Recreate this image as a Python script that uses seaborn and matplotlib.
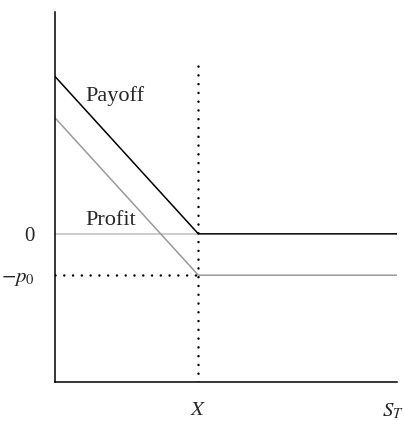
import matplotlib
matplotlib.use("Agg")
import matplotlib.pyplot as plt
import seaborn as sns
import pandas as pd

# long put: payoff and profit against the stock price at expiry
s_t = [0, 42, 100]
payoff = [42, 0, 0]
premium = 11
profit = [v - premium for v in payoff]
strike = 42
x_tick_pos = [strike, 98.8]
x_tick_labels = ["$X$", "$S_T$"]

sns.set_style("white")
plt.rcParams['font.family'] = ['Liberation Serif', 'DejaVu Serif']
plt.rcParams['mathtext.fontset'] = 'stix'

df = pd.DataFrame({"S": s_t, "Payoff": payoff, "Profit": profit})

fig = plt.figure(figsize=(4.04, 4.21), dpi=100)
ax = fig.add_axes([54.5 / 404, 39 / 421, 342.5 / 404, 370 / 421])

# zero line, gray, only left of the strike
ax.plot([0, strike], [0, 0], color="#bdbdbd", lw=1.1, zorder=1)

sns.lineplot(data=df, x="S", y="Profit", ax=ax, color="#9a9a9a", lw=1.1)
sns.lineplot(data=df, x="S", y="Payoff", ax=ax, color="black", lw=1.1)

dots = dict(color="black", lw=1.8, linestyle=(0, (0.01, 3.5)),
            dash_capstyle="round", zorder=3)
ax.plot([strike, strike], [-39.4, 45.5], **dots)
ax.plot([0, strike], [-premium, -premium], **dots)

ax.set_xlim(0, 100)
ax.set_ylim(-39.4, 59)
ax.set_xticks(x_tick_pos)
ax.set_xticklabels(x_tick_labels, fontsize=15)
ax.set_yticks([-premium, 0])
ax.set_yticklabels(["$-p_0$", "0"], fontsize=15)
ax.tick_params(axis="x", length=0, pad=14)
ax.tick_params(axis="y", length=0, pad=14)
ax.set_xlabel("")
ax.set_ylabel("")

ax.text(8.9, 36.6, "Payoff", fontsize=16, va="center")
ax.text(8.9, 3.6, "Profit", fontsize=16, va="center")

for side in ["top", "right"]:
    ax.spines[side].set_visible(False)
for side in ["left", "bottom"]:
    ax.spines[side].set_color("black")
    ax.spines[side].set_linewidth(1.1)

fig.savefig("out.png", dpi=100)
